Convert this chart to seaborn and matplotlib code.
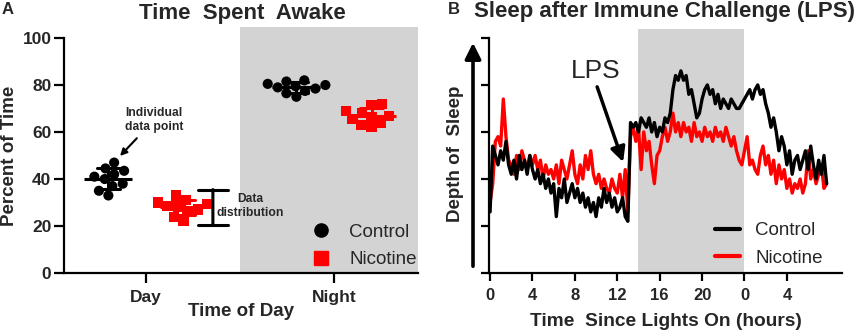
import numpy as np
import pandas as pd
import matplotlib
matplotlib.use("Agg")
import matplotlib.pyplot as plt
import seaborn as sns
from matplotlib.lines import Line2D

sns.set_theme(style="ticks")
plt.rcParams["font.family"] = ["Liberation Sans", "DejaVu Sans"]

# ---------------- data: panel A ----------------
times_of_day = ["Day", "Night"]
groups = ["Control", "Nicotine"]
day_control = [47, 44.5, 43.5, 42, 41, 40, 38, 37, 35, 33]
day_nicotine = [33, 31, 30, 29.5, 28.5, 28, 27, 26, 24, 22]
night_control = [82, 81.5, 80.5, 80, 79.5, 79, 78.5, 77.5, 76.5, 75]
night_nicotine = [72, 71.5, 69, 68, 67, 66.5, 65.5, 64, 63, 62]
a_yticks = [0, 20, 40, 60, 80, 100]

# ---------------- data: panel B ----------------
hours_step = 0.25
control_depth = [
    1.3, 2.7, 2.5, 2.3, 2.6, 2.4, 2.8, 2.3,
    2.1, 2.4, 2.0, 2.5, 2.2, 2.4, 2.1, 2.5,
    2.2, 2.0, 2.2, 1.9, 2.1, 1.8, 2.0, 1.7,
    1.9, 1.2, 1.8, 1.6, 2.0, 1.5, 1.7, 1.9,
    1.6, 1.8, 1.5, 1.7, 1.4, 1.6, 1.3, 1.5,
    1.2, 1.6, 1.4, 1.8, 1.5, 1.7, 1.4, 1.6,
    1.3, 1.4, 1.6, 1.2, 1.1, 3.2, 3.1, 3.2,
    3.0, 3.3, 3.2, 3.1, 3.3, 3.0, 3.2, 2.9,
    3.1, 3.0, 3.3, 3.2, 3.4, 3.9, 4.2, 4.1,
    4.3, 4.1, 4.2, 3.8, 3.9, 3.6, 3.3, 3.4,
    3.7, 3.9, 4.0, 3.8, 3.9, 3.6, 3.8, 3.5,
    3.7, 3.6, 3.5, 3.7, 3.6, 3.5, 3.5, 3.6,
    3.7, 3.8, 3.9, 3.7, 3.9, 4.0, 3.8, 3.9,
    3.6, 3.4, 3.1, 3.3, 3.0, 2.6, 2.9, 2.7,
    2.3, 2.6, 2.1, 2.4, 2.5, 2.2, 2.4, 2.6,
    2.2, 2.7, 2.3, 2.0, 2.4, 2.1, 2.5, 1.9,
]
nicotine_depth = [
    1.5, 1.9, 2.8, 2.9, 2.7, 3.7, 2.9, 2.4,
    2.3, 2.1, 2.5, 2.2, 2.6, 2.4, 2.2, 2.5,
    2.3, 2.5, 2.2, 2.4, 2.0, 2.3, 2.1, 2.2,
    2.0, 2.3, 1.9, 2.4, 2.2, 2.0, 2.3, 2.6,
    2.1, 1.9, 2.3, 2.0, 2.5, 2.2, 2.6, 2.1,
    1.9, 2.1, 1.8, 2.0, 1.8, 1.7, 2.0, 1.8,
    1.7, 2.1, 1.6, 2.2, 1.3, 2.9, 3.1, 2.8,
    3.1, 2.2, 3.0, 2.6, 2.8, 2.3, 1.9, 2.5,
    2.6, 2.9, 3.1, 2.8, 3.0, 3.4, 3.0, 3.2,
    2.9, 3.2, 3.0, 3.1, 2.8, 3.2, 2.9, 3.0,
    2.8, 3.1, 2.9, 3.0, 2.8, 3.1, 2.9, 3.0,
    2.8, 3.1, 2.9, 2.7, 2.9, 2.6, 2.4, 2.3,
    2.6, 2.9, 2.3, 2.4, 2.2, 2.1, 2.5, 2.7,
    2.3, 2.5, 2.1, 2.4, 1.9, 2.3, 2.0, 2.2,
    1.8, 2.0, 1.7, 1.9, 1.8, 2.0, 1.7, 1.9,
    2.6, 2.0, 2.2, 1.9, 2.1, 2.3, 1.8, 1.9,
]
b_xticks = [0, 4, 8, 12, 16, 20, 24, 28]
b_xticklabels = ["0", "4", "8", "12", "16", "20", "0", "4"]
b_yticks = [0, 1, 2, 3, 4, 5]
lights_off = (14, 24)

colors = {"Control": "#000000", "Nicotine": "#ff0000"}
GRAY = "#d3d3d3"

# ---------------- build tables ----------------
rows = []
for tod, ctl, nic in [("Day", day_control, day_nicotine), ("Night", night_control, night_nicotine)]:
    rows += [{"time": tod, "group": "Control", "value": v} for v in ctl]
    rows += [{"time": tod, "group": "Nicotine", "value": v} for v in nic]
dfa = pd.DataFrame(rows)

hours = np.arange(len(control_depth)) * hours_step
dfb = pd.concat([
    pd.DataFrame({"hours": hours, "depth": control_depth, "group": "Control"}),
    pd.DataFrame({"hours": hours, "depth": nicotine_depth, "group": "Nicotine"}),
], ignore_index=True)

W, H = 861, 334
fig = plt.figure(figsize=(W / 100, H / 100), dpi=100)


def fx(x):
    return x / W


def fy(y):
    return 1 - y / H


# ================= Panel A =================
axA = fig.add_axes([fx(64), fy(273), fx(418) - fx(64), fy(27) - fy(273)])
axA.axvspan(0.5, 1.447, color=GRAY, lw=0, zorder=0)

sns.swarmplot(data=dfa[dfa.group == "Control"], x="time", y="value", hue="group",
              hue_order=groups, order=times_of_day, dodge=True, palette=colors,
              marker="o", size=7.3, linewidth=0, legend=False, ax=axA, zorder=3)
sns.swarmplot(data=dfa[dfa.group == "Nicotine"], x="time", y="value", hue="group",
              hue_order=groups, order=times_of_day, dodge=True, palette=colors,
              marker="s", size=7.3, linewidth=0, legend=False, ax=axA, zorder=3)
sns.pointplot(data=dfa, x="time", y="value", hue="group", hue_order=groups,
              order=times_of_day, dodge=0.4, palette=colors, errorbar="sd",
              markers="_", markersize=34, markeredgewidth=2.2, linestyle="none",
              capsize=0.12, err_kws={"linewidth": 2.2}, legend=False, ax=axA)

axA.set_xlim(-0.436, 1.447)
axA.set_ylim(0, 104.7)
axA.set_yticks(a_yticks)
axA.set_xticks([0, 1])
axA.set_xticklabels(times_of_day)
axA.set_xlabel("")
axA.set_ylabel("")
for s in ["top", "right"]:
    axA.spines[s].set_visible(False)
for s in ["left", "bottom"]:
    axA.spines[s].set_linewidth(1.6)
    axA.spines[s].set_color("black")
axA.spines["left"].set_bounds(0, 100)
axA.tick_params(direction="out", length=7, width=1.6, color="black", labelsize=12.5, pad=2)
for lab in axA.get_xticklabels() + axA.get_yticklabels():
    lab.set_fontweight("bold")
axA.tick_params(axis="x", pad=5)

handlesA = [Line2D([], [], marker="o", color="black", linestyle="none", markersize=9.5),
            Line2D([], [], marker="s", color="red", linestyle="none", markersize=9.5)]
axA.legend(handlesA, groups, loc="lower left", bbox_to_anchor=((312 - 64) / 354, 0.02),
           frameon=False, fontsize=13.5, handlelength=1.0, handletextpad=1.0,
           labelspacing=0.55, borderpad=0, borderaxespad=0)

axA.annotate("Individual\ndata point", xy=(-0.138, 49.8), xytext=(0.043, 65.1),
             ha="center", va="center", fontsize=8.7, fontweight="bold",
             arrowprops=dict(arrowstyle="-|>", lw=1.5, color="black",
                             mutation_scale=10, shrinkA=2, shrinkB=0))
axA.annotate("", xy=(0.356, 20.5), xytext=(0.356, 35.5),
             arrowprops=dict(arrowstyle="|-|,widthA=0.55,widthB=0.55", lw=2.2,
                             color="black", shrinkA=0, shrinkB=0, mutation_scale=20))
axA.text(0.553, 28.5, "Data\ndistribution", ha="center", va="center",
         fontsize=8.7, fontweight="bold", linespacing=1.15)

fig.text(fx(8), fy(10), "A", ha="center", va="center", fontsize=12, fontweight="bold")
fig.text(fx(242), fy(14), "Time  Spent  Awake", ha="center", va="center",
         fontsize=16, fontweight="bold")
fig.text(fx(10), fy(156), "Percent of Time", ha="center", va="center", rotation=90,
         fontsize=13.5, fontweight="bold")
fig.text(fx(241), fy(312), "Time of Day", ha="center", va="center",
         fontsize=13.5, fontweight="bold")

# ================= Panel B =================
axB = fig.add_axes([fx(489), fy(273), fx(842) - fx(489), fy(29) - fy(273)])
axB.axvspan(*lights_off, color=GRAY, lw=0, zorder=0)
sns.lineplot(data=dfb, x="hours", y="depth", hue="group", hue_order=groups,
             palette=colors, linewidth=2.4, legend=False, ax=axB, zorder=3)
for ln in axB.lines:
    if matplotlib.colors.to_hex(ln.get_color()) == "#000000":
        ln.set_zorder(4)

axB.set_xlim(-0.1, 33.2)
axB.set_ylim(0, 5.19)
axB.set_xticks(b_xticks)
axB.set_xticklabels(b_xticklabels)
axB.set_yticks(b_yticks)
axB.set_yticklabels([])
axB.set_xlabel("")
axB.set_ylabel("")
for s in ["top", "right"]:
    axB.spines[s].set_visible(False)
for s in ["left", "bottom"]:
    axB.spines[s].set_linewidth(1.6)
    axB.spines[s].set_color("black")
axB.spines["left"].set_bounds(0, 5)
axB.tick_params(direction="out", length=6, width=1.6, color="black", labelsize=12, pad=5)
for lab in axB.get_xticklabels():
    lab.set_fontweight("bold")

handlesB = [Line2D([], [], color="black", lw=3), Line2D([], [], color="red", lw=3)]
axB.legend(handlesB, groups, loc="lower left", bbox_to_anchor=((715 - 489) / 353, 0.025),
           frameon=False, fontsize=13.5, handlelength=1.35, handletextpad=0.8,
           labelspacing=0.55, borderpad=0, borderaxespad=0)

axB.text(10.0, 4.3, "LPS", ha="center", va="center", fontsize=19)
axB.annotate("", xy=(12.55, 2.36), xytext=(10.1, 3.96),
             arrowprops=dict(arrowstyle="-|>", lw=2.5, color="black",
                             mutation_scale=22, shrinkA=0, shrinkB=0))

fig.patches.append(matplotlib.patches.FancyArrowPatch(
    (fx(473), fy(269)), (fx(473), fy(40)), transform=fig.transFigure,
    arrowstyle="-|>", mutation_scale=24, lw=2.6, color="black"))

fig.text(fx(454), fy(10), "B", ha="center", va="center", fontsize=12, fontweight="bold")
fig.text(fx(665), fy(12), "Sleep after Immune Challenge (LPS)", ha="center", va="center",
         fontsize=16, fontweight="bold")
fig.text(fx(455), fy(154), "Depth of  Sleep", ha="center", va="center", rotation=90,
         fontsize=13.5, fontweight="bold")
fig.text(fx(666), fy(321), "Time  Since Lights On (hours)", ha="center", va="center",
         fontsize=13.8, fontweight="bold")

fig.savefig("out.png", dpi=100)
